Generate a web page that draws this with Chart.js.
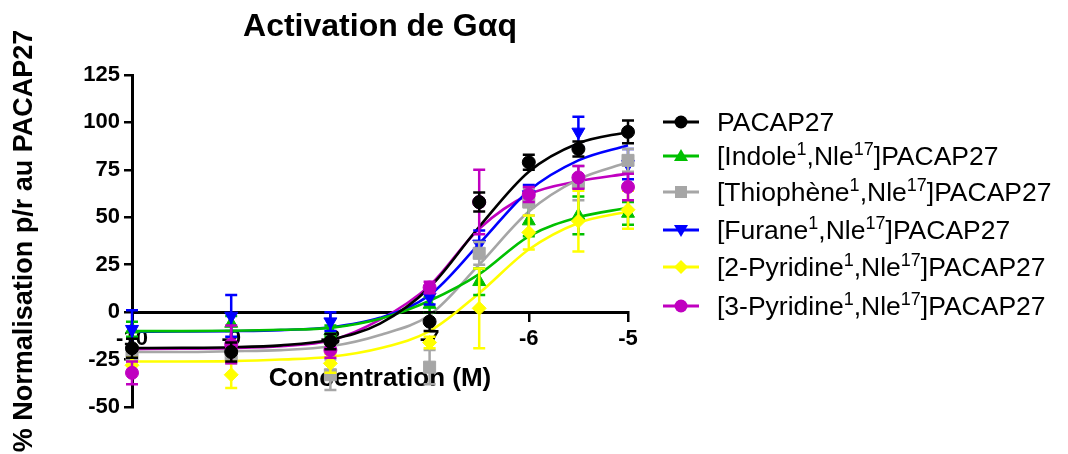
<!DOCTYPE html>
<html><head><meta charset="utf-8">
<script src="https://cdn.jsdelivr.net/npm/chart.js@4/dist/chart.umd.min.js"></script>
<style>
html,body{margin:0;padding:0;background:#fff;}
#wrap{position:relative;width:1068px;height:454px;overflow:hidden;}
#c{position:absolute;left:0;top:0;}
.leg{position:absolute;left:663px;height:30px;display:flex;align-items:center;font-family:'Liberation Sans',Arial,sans-serif;font-size:26.5px;color:#000;white-space:nowrap;}
.leg svg{margin-right:18px;flex:none;}
.leg sup{font-size:18px;line-height:0;vertical-align:10px;}
</style></head><body>
<div id="wrap"><canvas id="c" width="1068" height="454"></canvas><div id="legend"></div></div>
<script>
// ---- text ----
const TITLE = 'Activation de G\u03b1q';
const X_TITLE = 'Concentration (M)';
const Y_TITLE = '% Normalisation p/r au PACAP27';
const SERIES_NAMES = [
  'PACAP27',
  '[Indole<sup>1</sup>,Nle<sup>17</sup>]PACAP27',
  '[Thioph\u00e8ne<sup>1</sup>,Nle<sup>17</sup>]PACAP27',
  '[Furane<sup>1</sup>,Nle<sup>17</sup>]PACAP27',
  '[2-Pyridine<sup>1</sup>,Nle<sup>17</sup>]PACAP27',
  '[3-Pyridine<sup>1</sup>,Nle<sup>17</sup>]PACAP27'
];
// ---- axes ----
const X_MIN = -10, X_MAX = -5, X_STEP = 1;
const Y_MIN = -50, Y_MAX = 125, Y_STEP = 25;
// ---- measured points (log M) ----
const LOG_CONC = [-10, -9, -8, -7, -6.5, -6, -5.5, -5];
const PACAP27_Y     = [-19, -21, -15.5, -5, 58, 79, 86, 95];
const PACAP27_ERR   = [5, 5, 4, 5, 5, 4, 4, 6];
const INDOLE_Y      = [-9, -6, -10, 4, 16, 48, 51, 52];
const INDOLE_ERR    = [4, 4, 3, 4, 7, 8, 10, 6];
const THIOPHENE_Y   = [-22, -23, -33, -29, 31, 58, 68, 80];
const THIOPHENE_ERR = [4, 4, 8, 9, 6, 7, 9, 6];
const FURANE_Y      = [-9, -2, -5, 8, 36, 62, 95, 78];
const FURANE_ERR    = [10, 11, 5, 4, 7, 5, 8, 8];
const PYR2_Y        = [-28, -33, -27, -16, 2, 42, 48, 54];
const PYR2_ERR      = [4, 7, 5, 3, 21, 9, 16, 10];
const PYR3_Y        = [-32, -17, -20, 13, 58, 62, 71, 66];
const PYR3_ERR      = [6, 10, 4, 3, 17, 4, 6, 7];
// ---- fitted curves ----
const CURVE_X       = [-10, -9.5, -9, -8.5, -8, -7.5, -7, -6.5, -6, -5.5, -5];
const PACAP27_FIT   = [-18.9, -18.8, -18.5, -17.5, -14.5, -6, 13, 45, 74, 89, 95];
const INDOLE_FIT    = [-10, -10, -9.8, -9.3, -8.3, -3.5, 6, 20, 40, 50, 55];
const THIOPHENE_FIT = [-21, -21, -20.6, -20, -18, -12, -1.5, 25, 53, 70, 79];
const FURANE_FIT    = [-10.3, -10.2, -10, -9.5, -8, -3, 9, 36, 64, 80, 88];
const PYR2_FIT      = [-26, -26, -25.8, -25, -23.5, -19, -10, 10, 33, 47, 53];
const PYR3_FIT      = [-19.5, -19.3, -19, -18, -15, -4, 14, 44, 62, 69, 73];
// ---- styles ----
const COLORS = ['#000000', '#00c000', '#a6a6a6', '#0000ff', '#ffff00', '#c000c0'];
const SHAPES = ['circle', 'triangle', 'rect', 'triangle', 'rectRot', 'circle'];
const ROTS   = [0, 0, 0, 180, 0, 0];
const RADII  = [6.5, 7.5, 8.5, 7.5, 7, 6.5];

const POINTS = [PACAP27_Y, INDOLE_Y, THIOPHENE_Y, FURANE_Y, PYR2_Y, PYR3_Y];
const ERRS   = [PACAP27_ERR, INDOLE_ERR, THIOPHENE_ERR, FURANE_ERR, PYR2_ERR, PYR3_ERR];
const FITS   = [PACAP27_FIT, INDOLE_FIT, THIOPHENE_FIT, FURANE_FIT, PYR2_FIT, PYR3_FIT];
const FONT = "'Liberation Sans', Arial, sans-serif";

const datasets = [];
FITS.forEach((f, s) => {
  datasets.push({
    type: 'line', label: 'fit' + s, data: CURVE_X.map((x, i) => ({x, y: f[i]})),
    borderColor: COLORS[s], borderWidth: 2.6, pointRadius: 0, fill: false,
    cubicInterpolationMode: 'monotone', order: 20 + s, clip: false
  });
});
// draw order: later (lower order) on top; black on top
const PT_ORDER = [0, 5, 3, 4, 2, 1];
POINTS.forEach((p, s) => {
  datasets.push({
    type: 'line', label: 'pts' + s, showLine: false,
    data: LOG_CONC.map((x, i) => ({x, y: p[i]})),
    errors: ERRS[s],
    borderColor: COLORS[s], backgroundColor: COLORS[s], borderWidth: 1,
    pointStyle: SHAPES[s], pointRotation: ROTS[s], pointRadius: RADII[s],
    order: PT_ORDER[s], clip: false
  });
});

const errorBars = {
  id: 'errorBars',
  beforeDatasetDraw(chart, args) {
    const ds = chart.data.datasets[args.index];
    if (!ds.errors) return;
    const ys = chart.scales.y, ctx = chart.ctx;
    ctx.save();
    ctx.strokeStyle = ds.borderColor; ctx.lineWidth = 2.5;
    args.meta.data.forEach((pt, i) => {
      const v = ds.data[i].y, e = ds.errors[i];
      const t = ys.getPixelForValue(v + e), b = ys.getPixelForValue(v - e), x = pt.x;
      ctx.beginPath();
      ctx.moveTo(x, t); ctx.lineTo(x, b);
      ctx.moveTo(x - 6, t); ctx.lineTo(x + 6, t);
      ctx.moveTo(x - 6, b); ctx.lineTo(x + 6, b);
      ctx.stroke();
    });
    ctx.restore();
  }
};
const xTitle = {
  id: 'xTitle',
  beforeDatasetsDraw(chart) {
    const ctx = chart.ctx, a = chart.chartArea;
    ctx.save();
    ctx.font = "bold 26px " + FONT; ctx.fillStyle = '#000';
    ctx.textAlign = 'center'; ctx.textBaseline = 'middle';
    ctx.fillText(X_TITLE, (a.left + a.right) / 2, chart.scales.y.getPixelForValue(-35));
    ctx.restore();
  }
};

new Chart(document.getElementById('c'), {
  data: { datasets },
  plugins: [errorBars, xTitle],
  options: {
    responsive: false, animation: false, devicePixelRatio: 1,
    layout: { padding: { top: 0, left: 0, right: 440, bottom: 47 } },
    plugins: {
      legend: { display: false }, tooltip: { enabled: false },
      title: { display: true, text: TITLE, fullSize: false, color: '#000',
        font: { family: FONT, size: 32, weight: 'bold' }, padding: { top: 8, bottom: 28.6 } }
    },
    scales: {
      x: {
        type: 'linear', min: X_MIN, max: X_MAX, position: { y: 0 },
        afterFit(s) { s.height = 0; },
        ticks: { stepSize: X_STEP, color: '#000', padding: 6, maxRotation: 0, autoSkip: false,
          font: { family: FONT, size: 22, weight: 'bold' } },
        grid: { drawOnChartArea: false, drawTicks: true, tickLength: 8, color: '#000', lineWidth: 2.5 },
        border: { color: '#000', width: 3 }
      },
      y: {
        type: 'linear', min: Y_MIN, max: Y_MAX, position: 'left',
        afterFit(s) { s.width = 132; },
        ticks: { stepSize: Y_STEP, color: '#000', padding: 4,
          font: { family: FONT, size: 22, weight: 'bold' } },
        grid: { drawOnChartArea: false, drawTicks: true, tickLength: 8, color: '#000', lineWidth: 2.5 },
        border: { color: '#000', width: 3 },
        title: { display: true, text: Y_TITLE, color: '#000', padding: { top: 8, bottom: 0 },
          font: { family: FONT, size: 27, weight: 'bold' } }
      }
    }
  }
});

// HTML legend (allows superscripts)
const LEG_Y = [122, 156, 192, 230, 267, 306];
const leg = document.getElementById('legend');
SERIES_NAMES.forEach((name, s) => {
  const d = document.createElement('div');
  d.className = 'leg';
  d.style.top = (LEG_Y[s] - 15) + 'px';
  const c = COLORS[s];
  let m = '';
  if (SHAPES[s] === 'circle') m = `<circle cx="18" cy="8" r="6.5" fill="${c}"/>`;
  else if (SHAPES[s] === 'rect') m = `<rect x="12" y="2" width="12" height="12" fill="${c}"/>`;
  else if (SHAPES[s] === 'rectRot') m = `<polygon points="18,1 25,8 18,15 11,8" fill="${c}"/>`;
  else if (ROTS[s] === 180) m = `<polygon points="11,3 25,3 18,15" fill="${c}"/>`;
  else m = `<polygon points="18,1 25,13 11,13" fill="${c}"/>`;
  d.innerHTML = `<svg width="36" height="16" viewBox="0 0 36 16"><line x1="0" y1="8" x2="36" y2="8" stroke="${c}" stroke-width="3"/>${m}</svg><span>${name}</span>`;
  leg.appendChild(d);
});
</script>
</body></html>
